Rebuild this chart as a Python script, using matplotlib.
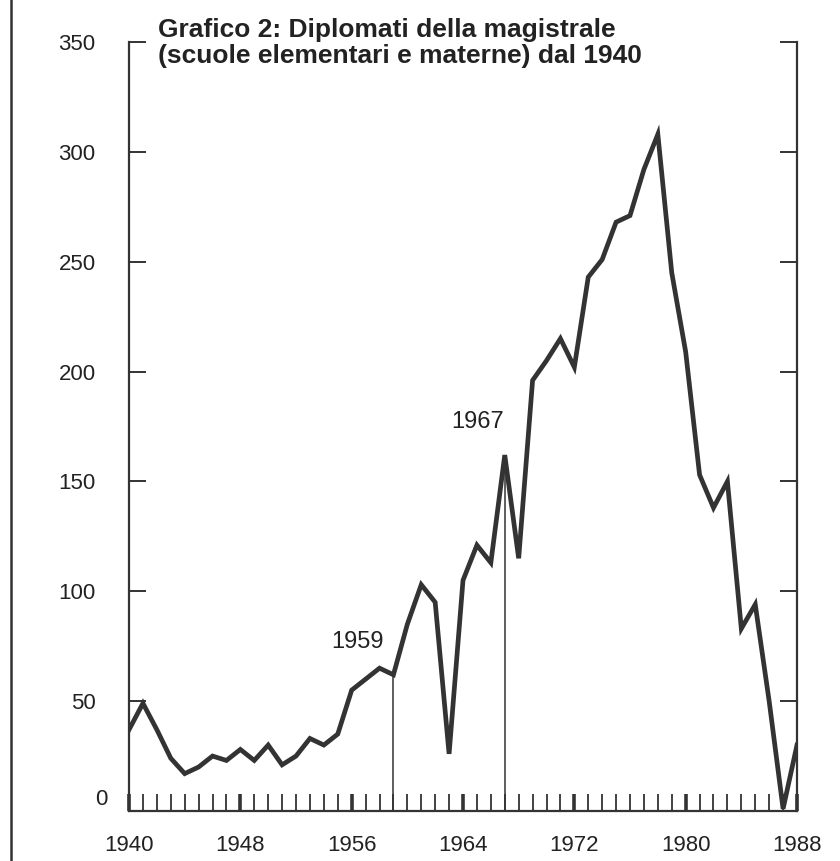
import numpy as np
import matplotlib.pyplot as plt
from matplotlib.lines import Line2D
from matplotlib.transforms import blended_transform_factory

plt.rcParams['font.family'] = ['Liberation Sans', 'DejaVu Sans']

years = list(range(1940, 1989))
diplomati = [37, 49, 37, 24, 17, 20, 25, 23, 28, 23,
             30, 21, 25, 33, 30, 35, 55, 60, 65, 62,
             85, 103, 95, 26, 105, 121, 113, 162, 115, 196,
             205, 215, 202, 243, 251, 268, 271, 292, 308, 245,
             209, 153, 138, 150, 83, 94, 50, 1, 30]

anni_segnati = [1959, 1967]
xticks = list(range(1940, 1989, 8))
yticks = list(range(0, 351, 50))
ylabels = ['', '50', '100', '150', '200', '250', '300', '350']

titolo = "Grafico 2: Diplomati della magistrale\n(scuole elementari e materne) dal 1940"

col = '#333333'
txt = '#222222'

fig = plt.figure(figsize=(8.4, 8.61), dpi=100)
ax = fig.add_axes([0.1536, 0.0581, 0.7952, 0.8931])

ax.plot(years, diplomati, color=col, lw=3.4, solid_joinstyle='miter')

# linee verticali 1959 e 1967
for a in anni_segnati:
    v = diplomati[years.index(a)]
    ax.vlines(a, 0, v, color=col, lw=1.1)
ax.text(1956.4, 77, "1959", ha='center', va='center', fontsize=17, color=txt)
ax.text(1965.05, 177, "1967", ha='center', va='center', fontsize=17, color=txt)

ax.set_xlim(1940, 1988)
ax.set_ylim(0, 350)

ax.spines['top'].set_visible(False)
for s in ['left', 'right', 'bottom']:
    ax.spines[s].set_color(col)
    ax.spines[s].set_linewidth(1.6)

ax.set_xticks(xticks)
ax.set_xticks(years, minor=True)
ax.set_yticks(yticks)
ax.set_yticklabels(ylabels)
ax.tick_params(axis='x', which='major', direction='in', length=12, width=2.6,
               color=col, labelsize=16, pad=17, labelcolor=txt)
ax.tick_params(axis='x', which='minor', direction='in', length=12, width=1.3, color=col)
ax.tick_params(axis='y', direction='in', length=12.5, width=1.4, color=col,
               right=True, labelsize=16, pad=24, labelcolor=txt)

# lo zero e' un po' spostato a destra
tr = blended_transform_factory(ax.transAxes, ax.transData)
ax.text(-0.032, 5, '0', transform=tr, ha='right', va='center', fontsize=16, color=txt)

fig.text(0.188, 1 - 18/861, titolo, ha='left', va='top', fontsize=19,
         fontweight='bold', color=txt, linespacing=1.1)

# bordo a sinistra
fig.add_artist(Line2D([11/840, 11/840], [0, 1], transform=fig.transFigure,
                      color=col, lw=1.8))

fig.savefig('out.png', dpi=100)
